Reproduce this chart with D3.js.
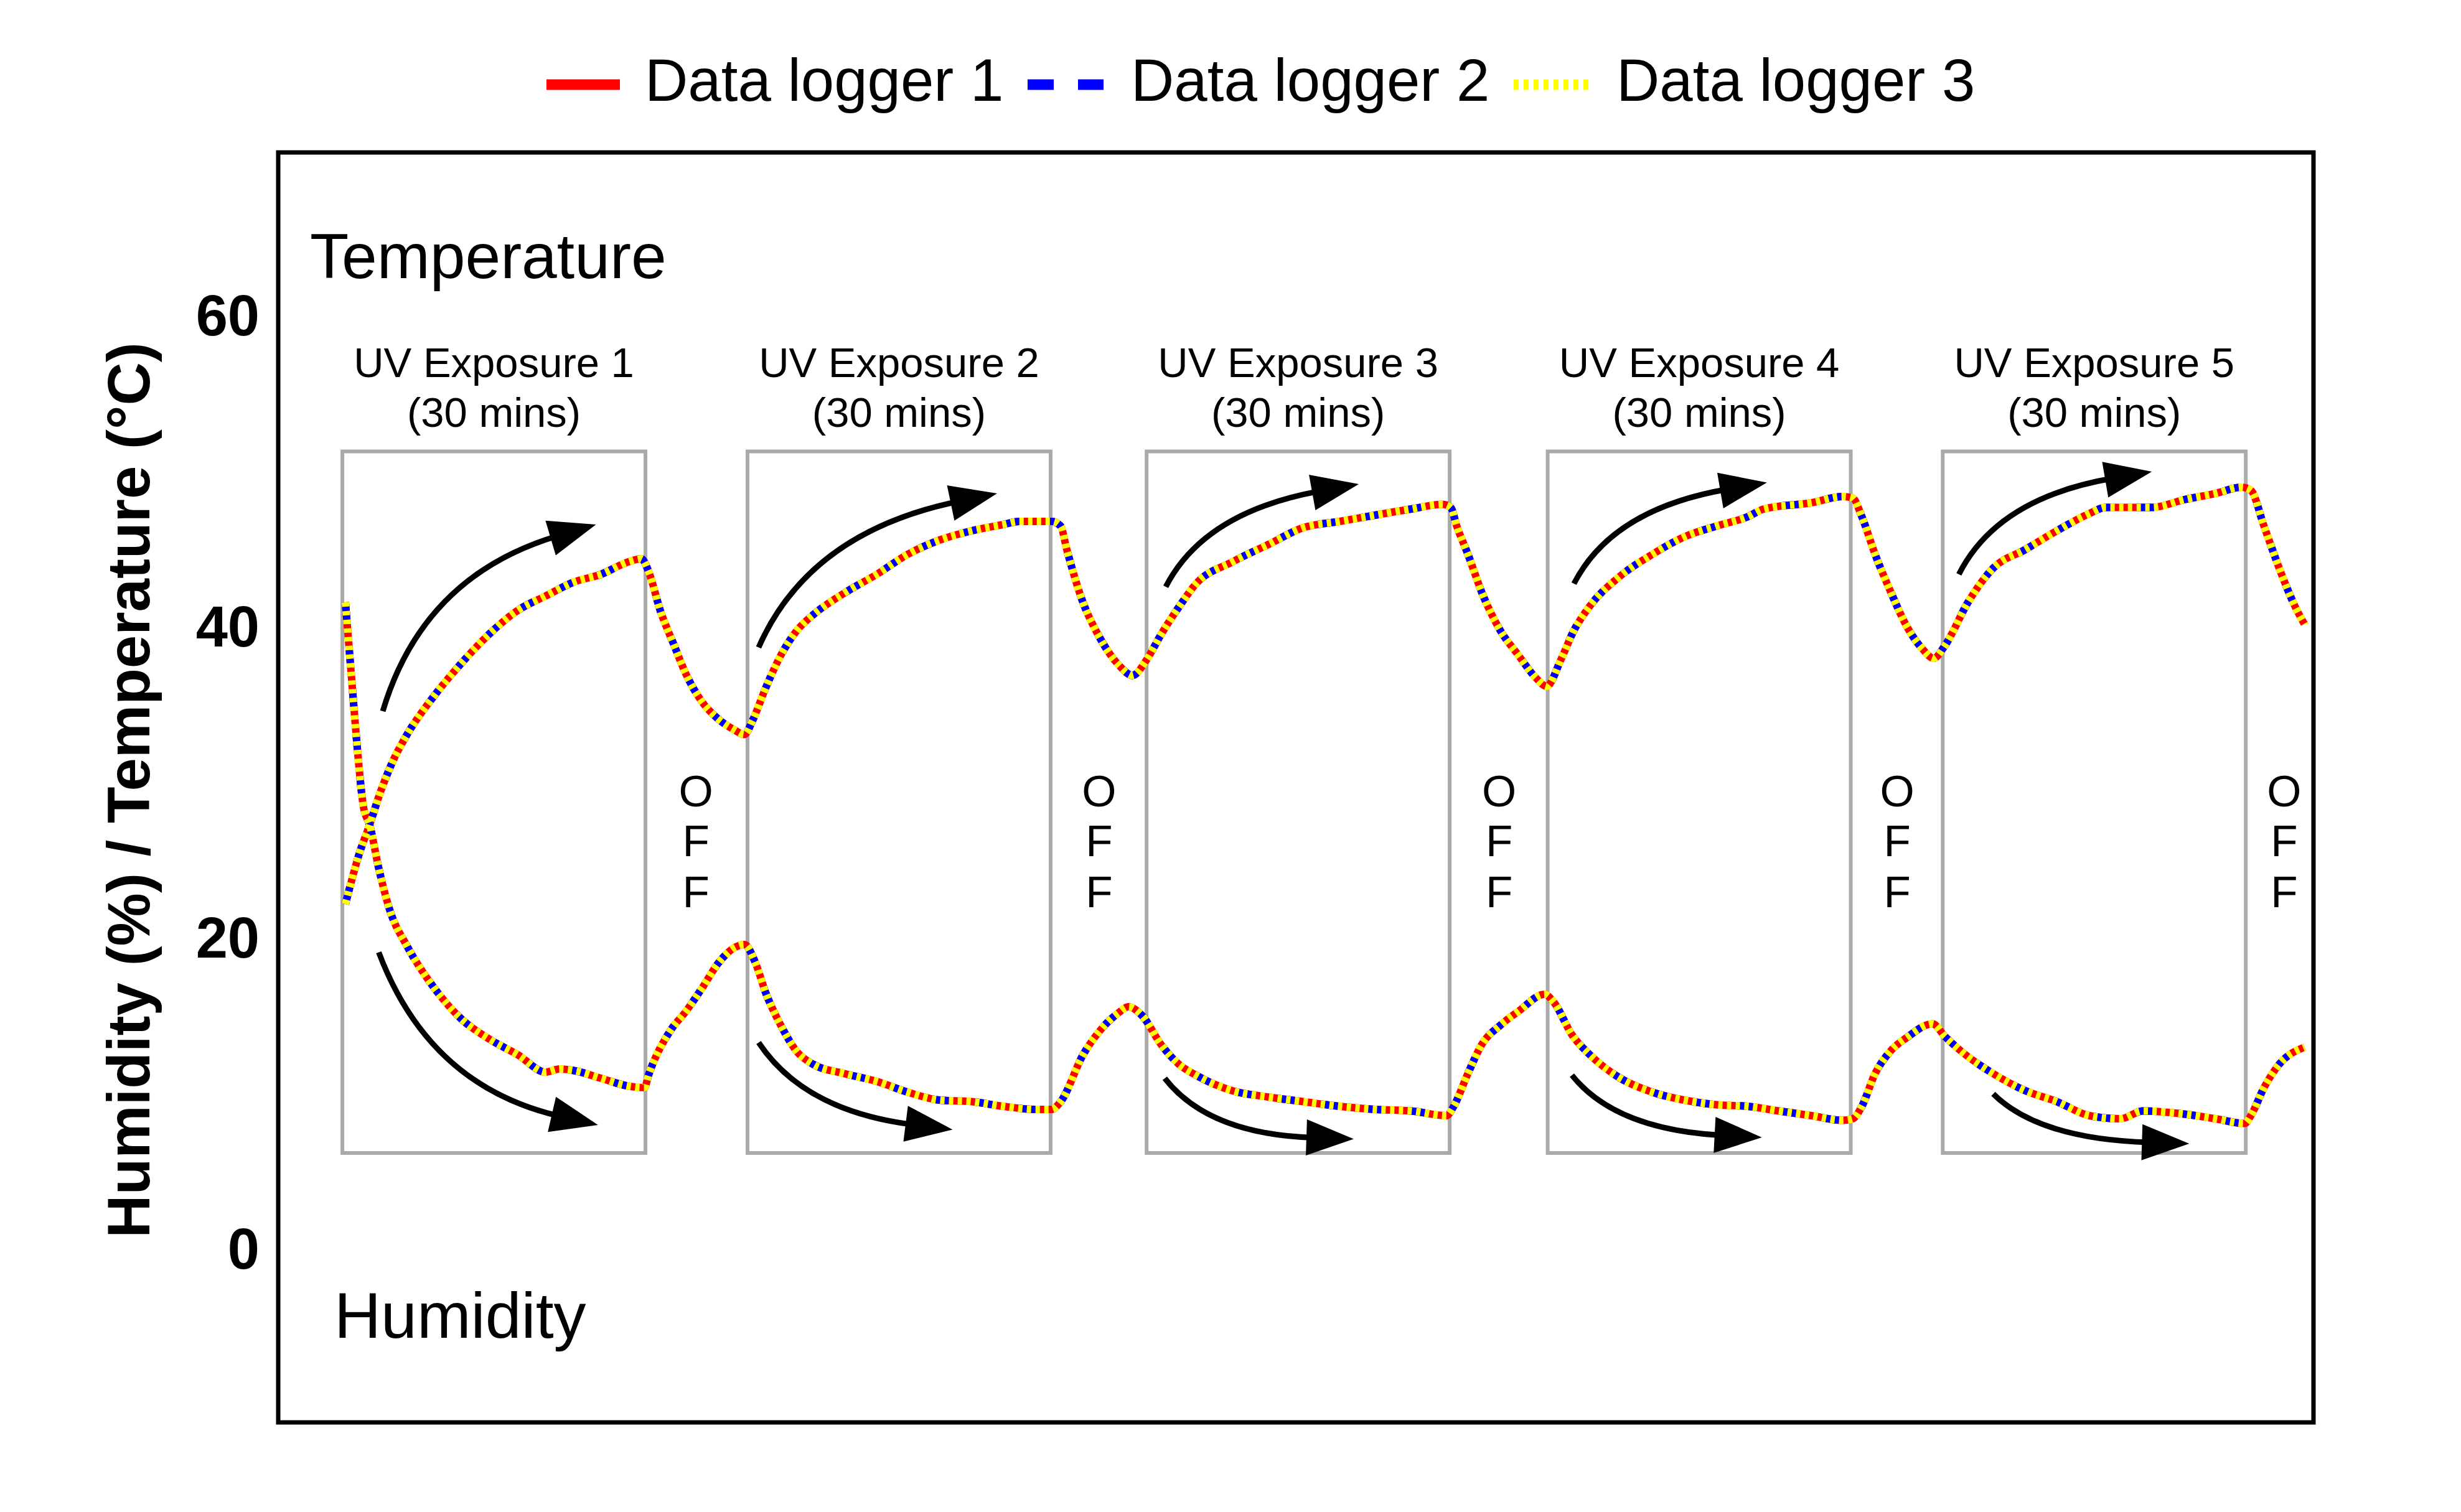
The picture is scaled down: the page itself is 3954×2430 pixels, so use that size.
<!DOCTYPE html>
<html><head><meta charset="utf-8">
<script src="https://cdn.jsdelivr.net/npm/d3@7"></script>
<style>html,body{margin:0;padding:0;background:#fff;} svg{display:block;}</style>
</head><body>
<svg id="chart" width="3954" height="2430"></svg>
<script>
// ---------------- DATA ----------------
const loggerNames = ["Data logger 1", "Data logger 2", "Data logger 3"];
const loggerColors = ["#ff0000", "#0000ff", "#ffff00"];

// time in minutes from start of UV exposure 1
const tempTime = [0.3,1.7,2.7,3.6,5.0,6.4,9.1,11.8,14.6,17.4,20.1,22.9,25.6,28.3,29.6,30.3,31.5,32.8,34.0,35.6,37.2,38.8,39.8,40.6,41.9,43.4,45.0,46.6,49.7,52.9,56.0,59.1,62.3,65.4,67.0,70.2,71.1,71.7,73.3,74.9,76.8,78.2,79.6,81.0,82.8,84.5,88.1,91.6,95.1,98.7,102.2,105.8,108.9,109.7,110.3,111.4,112.8,114.6,116.4,118.2,119.2,120.6,121.9,123.4,126.5,129.7,132.8,136.0,139.1,140.7,145.4,148.5,149.5,150.4,151.7,153.3,154.8,156.4,157.5,158.6,160.9,163.4,166.6,169.7,172.9,174.5,179.1,182.3,185.4,188.0,188.9,190.2,191.7,193.3,194.2];
const tempLogger1 = [22.0,25.3,27.1,28.9,31.2,32.9,35.4,37.5,39.4,40.9,41.8,42.7,43.2,44.0,44.2,43.4,40.8,38.7,36.8,35.0,33.9,33.2,32.9,33.8,35.9,38.0,39.6,40.6,42.0,43.2,44.5,45.4,46.0,46.4,46.6,46.6,46.3,44.8,41.4,39.2,37.4,36.7,37.7,39.3,41.1,42.6,44.0,45.1,46.2,46.6,47.0,47.4,47.7,47.5,46.3,44.5,42.0,39.6,38.0,36.5,36.0,37.7,39.6,41.1,43.1,44.5,45.6,46.3,46.9,47.4,47.8,48.2,48.1,46.9,44.5,42.0,39.9,38.4,37.8,38.6,41.4,43.6,44.8,46.0,47.1,47.5,47.5,48.0,48.4,48.8,48.6,46.3,43.6,41.1,40.0];
const tempLogger2 = [22.0,25.3,27.1,28.9,31.2,32.9,35.4,37.5,39.4,40.9,41.8,42.7,43.2,44.0,44.2,43.4,40.8,38.7,36.8,35.0,33.9,33.2,32.9,33.8,35.9,38.0,39.6,40.6,42.0,43.2,44.5,45.4,46.0,46.4,46.6,46.6,46.3,44.8,41.4,39.2,37.4,36.7,37.7,39.3,41.1,42.6,44.0,45.1,46.2,46.6,47.0,47.4,47.7,47.5,46.3,44.5,42.0,39.6,38.0,36.5,36.0,37.7,39.6,41.1,43.1,44.5,45.6,46.3,46.9,47.4,47.8,48.2,48.1,46.9,44.5,42.0,39.9,38.4,37.8,38.6,41.4,43.6,44.8,46.0,47.1,47.5,47.5,48.0,48.4,48.8,48.6,46.3,43.6,41.1,40.0];
const tempLogger3 = [22.0,25.3,27.1,28.9,31.2,32.9,35.4,37.5,39.4,40.9,41.8,42.7,43.2,44.0,44.2,43.4,40.8,38.7,36.8,35.0,33.9,33.2,32.9,33.8,35.9,38.0,39.6,40.6,42.0,43.2,44.5,45.4,46.0,46.4,46.6,46.6,46.3,44.8,41.4,39.2,37.4,36.7,37.7,39.3,41.1,42.6,44.0,45.1,46.2,46.6,47.0,47.4,47.7,47.5,46.3,44.5,42.0,39.6,38.0,36.5,36.0,37.7,39.6,41.1,43.1,44.5,45.6,46.3,46.9,47.4,47.8,48.2,48.1,46.9,44.5,42.0,39.9,38.4,37.8,38.6,41.4,43.6,44.8,46.0,47.1,47.5,47.5,48.0,48.4,48.8,48.6,46.3,43.6,41.1,40.0];

const humTime = [0.3,0.9,1.4,2.1,2.7,3.6,4.7,6.4,9.1,11.8,14.6,17.4,20.1,21.5,22.9,25.6,28.3,29.9,30.3,32.5,34.0,35.6,37.2,38.8,39.8,40.9,41.9,43.4,45.0,46.6,49.7,52.9,56.0,59.1,62.3,65.4,68.6,70.2,71.1,73.3,74.9,76.8,77.8,79.2,81.0,82.8,84.5,88.1,91.6,95.1,98.7,102.2,105.8,109.3,110.0,111.4,112.8,114.6,116.4,119.0,119.9,121.7,123.5,126.5,129.7,132.8,136.0,139.1,142.2,145.4,148.5,149.5,150.4,151.7,153.3,154.8,157.4,158.6,160.3,163.4,166.6,169.7,172.9,176.0,178.2,182.3,185.4,188.3,188.9,190.2,191.7,194.2];
const humLogger1 = [41.4,36.6,32.6,28.2,27.1,24.3,21.6,19.3,16.6,14.6,13.3,12.3,11.2,11.4,11.3,10.8,10.3,10.2,11.0,13.9,15.1,16.6,18.2,19.2,19.4,18.2,16.3,14.2,12.5,11.7,11.1,10.6,9.9,9.4,9.3,9.0,8.8,8.8,9.3,12.3,13.8,15.0,15.4,14.8,13.0,11.7,11.0,10.0,9.6,9.3,9.0,8.8,8.7,8.4,9.0,11.1,13.0,14.2,15.1,16.2,15.7,13.6,12.3,10.8,9.9,9.4,9.1,9.0,8.7,8.4,8.1,8.2,9.0,11.1,12.6,13.4,14.3,13.5,12.5,11.1,10.0,9.3,8.4,8.2,8.7,8.5,8.2,7.9,8.4,10.2,11.7,12.8];
const humLogger2 = [41.4,36.6,32.6,28.2,27.1,24.3,21.6,19.3,16.6,14.6,13.3,12.3,11.2,11.4,11.3,10.8,10.3,10.2,11.0,13.9,15.1,16.6,18.2,19.2,19.4,18.2,16.3,14.2,12.5,11.7,11.1,10.6,9.9,9.4,9.3,9.0,8.8,8.8,9.3,12.3,13.8,15.0,15.4,14.8,13.0,11.7,11.0,10.0,9.6,9.3,9.0,8.8,8.7,8.4,9.0,11.1,13.0,14.2,15.1,16.2,15.7,13.6,12.3,10.8,9.9,9.4,9.1,9.0,8.7,8.4,8.1,8.2,9.0,11.1,12.6,13.4,14.3,13.5,12.5,11.1,10.0,9.3,8.4,8.2,8.7,8.5,8.2,7.9,8.4,10.2,11.7,12.8];
const humLogger3 = [41.4,36.6,32.6,28.2,27.1,24.3,21.6,19.3,16.6,14.6,13.3,12.3,11.2,11.4,11.3,10.8,10.3,10.2,11.0,13.9,15.1,16.6,18.2,19.2,19.4,18.2,16.3,14.2,12.5,11.7,11.1,10.6,9.9,9.4,9.3,9.0,8.8,8.8,9.3,12.3,13.8,15.0,15.4,14.8,13.0,11.7,11.0,10.0,9.6,9.3,9.0,8.8,8.7,8.4,9.0,11.1,13.0,14.2,15.1,16.2,15.7,13.6,12.3,10.8,9.9,9.4,9.1,9.0,8.7,8.4,8.1,8.2,9.0,11.1,12.6,13.4,14.3,13.5,12.5,11.1,10.0,9.3,8.4,8.2,8.7,8.5,8.2,7.9,8.4,10.2,11.7,12.8];

const exposureStart = [0, 40.1, 79.6, 119.3, 158.4];
const exposureDuration = 30;
const exposureLow = 6.0, exposureHigh = 51.1;
const exposureLabels = ["UV Exposure 1", "UV Exposure 2", "UV Exposure 3", "UV Exposure 4", "UV Exposure 5"];
const exposureSub = "(30 mins)";
const offCenter = [35.0, 74.9, 114.5, 153.9, 192.2];
const offLetters = ["O", "F", "F"];
const offLetterValues = [28.3, 25.1, 21.8];
const yTicks = [0, 20, 40, 60];

// curved trend arrows: [time, value] for tail, bend control and tip
const arrowTail = [[4.0,34.4],[3.6,18.9],[41.2,38.5],[41.2,13.1],[81.5,42.4],[81.4,10.8],[121.9,42.6],[121.7,11.0],[160.0,43.2],[163.4,9.8]];
const arrowCtrl = [[8.0,43.1],[8.6,10.3],[46.2,45.9],[45.7,8.7],[85.3,47.2],[85.7,7.2],[125.7,47.4],[126.0,7.5],[163.8,48.1],[167.9,6.9]];
const arrowTip  = [[25.1,46.4],[25.3,7.8],[64.8,48.4],[60.4,7.5],[100.6,49.0],[100.1,6.9],[141.0,49.1],[140.5,7.0],[179.1,49.8],[182.8,6.6]];

// ---------------- CHART ----------------
const FONT = "'Liberation Sans', Arial, Helvetica, sans-serif";
const svg = d3.select("#chart");
svg.append("rect").attr("width", 3954).attr("height", 2430).attr("fill", "#fff");

const x = d3.scaleLinear().domain([-6.35, 195.1]).range([447, 3717]);
const y = d3.scaleLinear().domain([-11.32, 70.32]).range([2286, 245]);

// exposure boxes
const boxes = svg.append("g");
exposureStart.forEach((s, i) => {
  boxes.append("rect")
    .attr("x", x(s)).attr("y", y(exposureHigh))
    .attr("width", x(s + exposureDuration) - x(s))
    .attr("height", y(exposureLow) - y(exposureHigh))
    .attr("fill", "none").attr("stroke", "#aaaaaa").attr("stroke-width", 6);
  const cx = x(s + exposureDuration / 2);
  boxes.append("text").attr("x", cx).attr("y", y(exposureHigh) - 120)
    .attr("text-anchor", "middle").attr("font-family", FONT).attr("font-size", 67)
    .text(exposureLabels[i]);
  boxes.append("text").attr("x", cx).attr("y", y(exposureHigh) - 40)
    .attr("text-anchor", "middle").attr("font-family", FONT).attr("font-size", 67)
    .text(exposureSub);
});

// OFF labels
offCenter.forEach(c => {
  offLetters.forEach((L, j) => {
    svg.append("text").attr("x", x(c)).attr("y", y(offLetterValues[j]))
      .attr("text-anchor", "middle").attr("font-family", FONT).attr("font-size", 71)
      .text(L);
  });
});

// lines
const line = d3.line().x(d => x(d[0])).y(d => y(d[1])).curve(d3.curveMonotoneX);
const styles = [
  { color: loggerColors[0], dash: null },
  { color: loggerColors[1], dash: "28 42" },
  { color: loggerColors[2], dash: "7 7" }
];
const tempSeries = [tempLogger1, tempLogger2, tempLogger3];
const humSeries = [humLogger1, humLogger2, humLogger3];
const lines = svg.append("g").attr("fill", "none");
[0, 1, 2].forEach(k => {
  [[tempTime, tempSeries[k]], [humTime, humSeries[k]]].forEach(([tt, vv]) => {
    const pts = tt.map((t, i) => [t, vv[i]]);
    const p = lines.append("path").attr("d", line(pts))
      .attr("stroke", styles[k].color).attr("stroke-width", 12)
      .attr("stroke-linejoin", "round");
    if (styles[k].dash) p.attr("stroke-dasharray", styles[k].dash);
  });
});

// arrows
const ag = svg.append("g");
arrowTail.forEach((tail, i) => {
  const S = [x(tail[0]), y(tail[1])];
  const C = [x(arrowCtrl[i][0]), y(arrowCtrl[i][1])];
  const T = [x(arrowTip[i][0]), y(arrowTip[i][1])];
  let dx = T[0] - C[0], dy = T[1] - C[1];
  const len = Math.hypot(dx, dy); dx /= len; dy /= len;
  const HL = 76, HW = 29;
  const B = [T[0] - HL * dx, T[1] - HL * dy];
  const E = [T[0] - (HL - 12) * dx, T[1] - (HL - 12) * dy];
  const path = d3.path();
  path.moveTo(S[0], S[1]);
  path.quadraticCurveTo(C[0], C[1], E[0], E[1]);
  ag.append("path").attr("d", path.toString()).attr("fill", "none")
    .attr("stroke", "#000").attr("stroke-width", 9);
  const nx = -dy, ny = dx;
  ag.append("polygon")
    .attr("points", [[T[0], T[1]], [B[0] + HW * nx, B[1] + HW * ny], [B[0] - HW * nx, B[1] - HW * ny]].map(p => p.join(",")).join(" "))
    .attr("fill", "#000");
});

// frame
svg.append("rect")
  .attr("x", x.range()[0]).attr("y", y.range()[1])
  .attr("width", x.range()[1] - x.range()[0])
  .attr("height", y.range()[0] - y.range()[1])
  .attr("fill", "none").attr("stroke", "#000").attr("stroke-width", 7);

// y axis
const yAxis = svg.append("g").attr("transform", `translate(${x.range()[0]},0)`)
  .call(d3.axisLeft(y).tickValues(yTicks).tickSize(0).tickPadding(30).tickFormat(d3.format("d")));
yAxis.select(".domain").remove();
yAxis.selectAll("text").attr("font-family", FONT).attr("font-size", 92)
  .attr("font-weight", "bold").attr("fill", "#000").attr("dy", "0.39em");

svg.append("text").attr("transform", "translate(240,1270) rotate(-90)")
  .attr("text-anchor", "middle").attr("font-family", FONT).attr("font-size", 96)
  .attr("font-weight", "bold").text("Humidity (%) / Temperature (°C)");

// in-plot labels
svg.append("text").attr("x", 498).attr("y", 447).attr("font-family", FONT)
  .attr("font-size", 102).text("Temperature");
svg.append("text").attr("x", 537).attr("y", 2150).attr("font-family", FONT)
  .attr("font-size", 104).text("Humidity");

// legend
const legendX = [[878, 996, 1036], [1651, 1773, 1817], [2432, 2555, 2597]];
const legendDash = [null, "42 39", "8 8"];
const lg = svg.append("g");
loggerNames.forEach((name, i) => {
  const l = lg.append("line").attr("x1", legendX[i][0]).attr("x2", legendX[i][1])
    .attr("y1", 136).attr("y2", 136).attr("stroke", loggerColors[i]).attr("stroke-width", 17);
  if (legendDash[i]) l.attr("stroke-dasharray", legendDash[i]);
  lg.append("text").attr("x", legendX[i][2]).attr("y", 162).attr("font-family", FONT)
    .attr("font-size", 96).text(name);
});
</script>
</body></html>
